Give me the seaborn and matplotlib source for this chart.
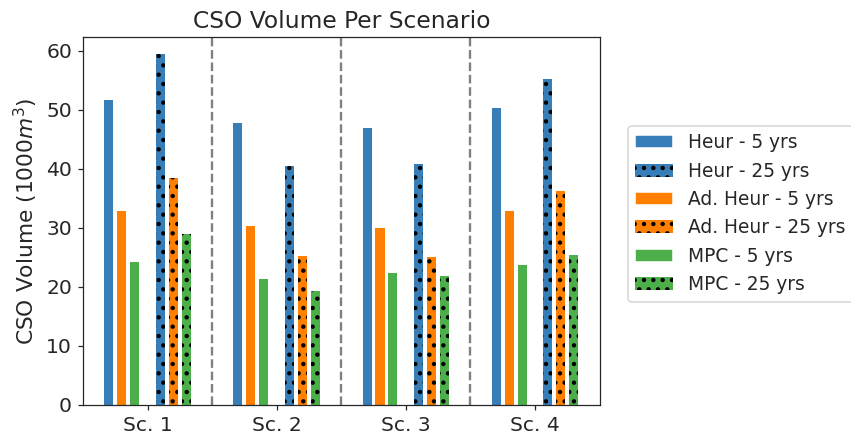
import pandas as pd
import matplotlib
matplotlib.use("Agg")
import matplotlib.pyplot as plt
from matplotlib.patches import Patch
import seaborn as sns

scenarios = ['Sc. 1', 'Sc. 2', 'Sc. 3', 'Sc. 4']
heur_5 = [51.7, 47.8, 47.0, 50.3]
adheur_5 = [32.8, 30.4, 30.0, 32.8]
mpc_5 = [24.2, 21.3, 22.3, 23.8]
heur_25 = [59.4, 40.5, 40.8, 55.3]
adheur_25 = [38.4, 25.2, 25.0, 36.2]
mpc_25 = [29.0, 19.4, 21.9, 25.5]

series = {
    'Heur - 5 yrs': heur_5,
    'Ad. Heur - 5 yrs': adheur_5,
    'MPC - 5 yrs': mpc_5,
    'Heur - 25 yrs': heur_25,
    'Ad. Heur - 25 yrs': adheur_25,
    'MPC - 25 yrs': mpc_25,
}
colors = {'Heur': '#377eb8', 'Ad. Heur': '#ff7f00', 'MPC': '#4daf4a'}

# long format table for seaborn
rows = []
for name, vals in series.items():
    for sc, v in zip(scenarios, vals):
        rows.append({'Scenario': sc, 'Series': name, 'Volume': v})
df = pd.DataFrame(rows)

# empty slot in the middle to separate 5 yr and 25 yr bars
spacer = ' '
hue_order = ['Heur - 5 yrs', 'Ad. Heur - 5 yrs', 'MPC - 5 yrs', spacer,
             'Heur - 25 yrs', 'Ad. Heur - 25 yrs', 'MPC - 25 yrs']
palette = {name: colors[name.split(' - ')[0]] for name in series}
palette[spacer] = 'white'

sns.set_style('ticks')
plt.rcParams['hatch.linewidth'] = 1.6
fig = plt.figure(figsize=(851 / 112, 435 / 112), dpi=112)
ax = fig.add_axes([0.0975, 0.069, 0.607, 0.846])

sns.barplot(data=df, x='Scenario', y='Volume', hue='Series', hue_order=hue_order,
            order=scenarios, palette=palette, width=0.7, gap=0.3, saturation=1,
            linewidth=0, legend=False, ax=ax)

# hatch the 25 yr bars (right half of each group)
for p in ax.patches:
    xc = p.get_x() + p.get_width() / 2
    if xc - round(xc) > 0:
        p.set_hatch('..')
        p.set_edgecolor('black')
        p.set_linewidth(0)

for i in range(len(scenarios) - 1):
    ax.axvline(i + 0.5, color='gray', linestyle='--', linewidth=1.5)

ax.set_title('CSO Volume Per Scenario', fontsize=15)
ax.set_xlabel('')
ax.set_ylabel('CSO Volume (1000$m^3$)', fontsize=14)
ax.tick_params(labelsize=13)

handles = []
for key in ['Heur', 'Ad. Heur', 'MPC']:
    handles.append(Patch(facecolor=colors[key], label=f'{key} - 5 yrs'))
    handles.append(Patch(facecolor=colors[key], edgecolor='black', linewidth=0,
                         hatch='..', label=f'{key} - 25 yrs'))
fig.legend(handles=handles, loc='upper left', bbox_to_anchor=(628 / 851, 1 - 126 / 435),
           borderaxespad=0, fontsize=12)

fig.savefig('out.png', dpi=112)
